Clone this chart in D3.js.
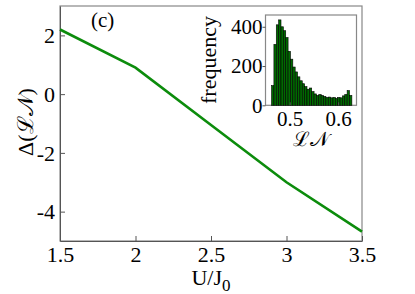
<!DOCTYPE html>
<html>
<head>
<meta charset="utf-8">
<script src="https://cdn.jsdelivr.net/npm/d3@7"></script>
<style>
  body { margin: 0; background: #fff; }
  svg text { font-family: "Liberation Serif", "Times New Roman", serif; fill: #000; }
</style>
</head>
<body>
<div id="chart"></div>
<script>
// main curve
const uValues = [1.5, 2, 2.5, 3, 3.5]
const deltaLN = [2.2, 0.9, -1.05, -3.0, -4.68]
const xTicks = [1.5, 2, 2.5, 3, 3.5]
const yTicks = [-4, -2, 0, 2]

// inset histogram
const binLo = 0.4625, binW = 0.00488
const counts = [100, 310, 410, 435, 400, 380, 345, 275, 235, 195, 170, 145, 125, 110,
  95, 82, 88, 70, 58, 50, 55, 50, 45, 40, 42, 38, 40, 35, 40, 38, 48, 55, 75, 50]
const insetXTicks = [0.5, 0.6]
const insetYTicks = [0, 200, 400]

const width = 415, height = 294
const green = '#0c8c0c'
const serif = '"Liberation Serif", "Times New Roman", serif'
const fmt = d => String(d)

let svg = d3.select('#chart').append('svg')
  .attr('width', width)
  .attr('height', height)

// scales
const x = d3.scaleLinear().domain([1.5, 3.5]).range([60, 362])
const y = d3.scaleLinear().domain([-5, 3]).range([241, 6])

// frame
svg.append('rect')
  .attr('x', x.range()[0]).attr('y', y.range()[1])
  .attr('width', x.range()[1] - x.range()[0])
  .attr('height', y.range()[0] - y.range()[1])
  .attr('fill', 'none').attr('stroke', '#888').attr('stroke-width', 1.2)

// x axis
let gx = svg.append('g')
  .attr('transform', 'translate(0,' + y.range()[0] + ')')
  .call(d3.axisBottom(x).tickValues(xTicks).tickFormat(fmt).tickSizeInner(-5).tickSizeOuter(0))
  .attr('font-family', serif).attr('font-size', 22)
gx.select('.domain').attr('stroke', '#555')
gx.selectAll('line').attr('stroke', '#555')
gx.selectAll('text').attr('y', 20.5).attr('dy', 0)

// y axis
let gy = svg.append('g')
  .attr('transform', 'translate(' + x.range()[0] + ',0)')
  .call(d3.axisLeft(y).tickValues(yTicks).tickFormat(fmt).tickSizeInner(-5).tickSizeOuter(0))
  .attr('font-family', serif).attr('font-size', 22)
gy.select('.domain').attr('stroke', '#555')
gy.selectAll('line').attr('stroke', '#555')
gy.selectAll('text').attr('x', -5).attr('dy', '0.33em')

// the curve
const line = d3.line()
  .x((d, i) => x(uValues[i]))
  .y(d => y(d))
svg.append('path')
  .datum(deltaLN)
  .attr('d', line)
  .attr('fill', 'none')
  .attr('stroke', green)
  .attr('stroke-width', 2.6)

// axis titles
svg.append('text')
  .attr('transform', 'translate(33,122) rotate(-90)')
  .attr('text-anchor', 'middle')
  .attr('font-size', 22)
  .text('Δ(ℒ𝒩)')

let xt = svg.append('text')
  .attr('x', 211).attr('y', 285)
  .attr('text-anchor', 'middle')
  .attr('font-size', 22)
xt.append('tspan').text('U/J')
xt.append('tspan').attr('dy', 6).attr('font-size', 17).text('0')

svg.append('text')
  .attr('x', 91).attr('y', 27)
  .attr('font-size', 21)
  .text('(c)')

// ---- inset ----
const ix = d3.scaleLinear().domain([0.45, 0.638]).range([265.5, 356.5])
const iy = d3.scaleLinear().domain([0, 460]).range([105.3, 15])

svg.append('rect')
  .attr('x', 265.5).attr('y', 15)
  .attr('width', 91).attr('height', 90.3)
  .attr('fill', '#fff').attr('stroke', '#888').attr('stroke-width', 1.2)

svg.append('g').selectAll('rect')
  .data(counts)
  .enter()
  .append('rect')
  .attr('x', (d, i) => ix(binLo + i * binW))
  .attr('y', d => iy(d))
  .attr('width', ix(binLo + binW) - ix(binLo))
  .attr('height', d => iy(0) - iy(d))
  .attr('fill', '#006a00')
  .attr('stroke', '#000')
  .attr('stroke-width', 0.6)

let igx = svg.append('g')
  .attr('transform', 'translate(0,' + iy.range()[0] + ')')
  .call(d3.axisBottom(ix).tickValues(insetXTicks).tickFormat(fmt).tickSizeInner(-3).tickSizeOuter(0))
  .attr('font-family', serif).attr('font-size', 21)
igx.select('.domain').remove()
igx.selectAll('line').attr('stroke', '#555')
igx.selectAll('text').attr('y', 21).attr('dy', 0)

let igy = svg.append('g')
  .attr('transform', 'translate(' + ix.range()[0] + ',0)')
  .call(d3.axisLeft(iy).tickValues(insetYTicks).tickFormat(fmt).tickSizeInner(3).tickSizeOuter(0))
  .attr('font-family', serif).attr('font-size', 21)
igy.select('.domain').remove()
igy.selectAll('line').attr('stroke', '#555')
igy.selectAll('text').attr('x', -3).attr('dy', '0.33em')

svg.append('text')
  .attr('transform', 'translate(216,60) rotate(-90)')
  .attr('text-anchor', 'middle')
  .attr('font-size', 22)
  .text('frequency')

svg.append('text')
  .attr('x', 311).attr('y', 146)
  .attr('text-anchor', 'middle')
  .attr('font-size', 20)
  .text('ℒ𝒩')
</script>
</body>
</html>
